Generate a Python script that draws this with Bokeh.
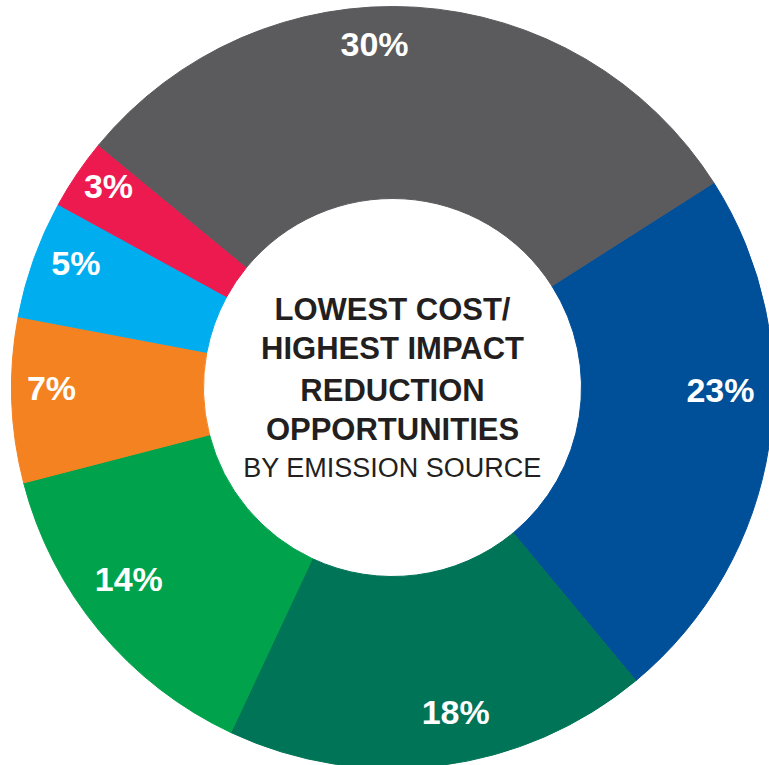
import numpy as np
from bokeh.plotting import figure
from bokeh.models import Range1d, ColumnDataSource
from bokeh.core.properties import value
from bokeh.embed import file_html
from bokeh.resources import INLINE

# ---- data ----
categories = ["Blue", "Dark green", "Green", "Orange", "Light blue", "Red", "Gray"]
shares = [23, 18, 14, 7, 5, 3, 30]
labels = ["23%", "18%", "14%", "7%", "5%", "3%", "30%"]
colors = ["#004f99", "#007457", "#00a34b", "#f58220", "#00aeef", "#ed1a4f", "#5b5b5e"]

center_lines = ["LOWEST COST/", "HIGHEST IMPACT", "REDUCTION", "OPPORTUNITIES", "BY EMISSION SOURCE"]

# ---- layout ----
W, H = 769, 765
CX, CY = 392, H - 387
R_IN, R_OUT = 189, 381
START_DEG = 32.5

# label placement nudges (degrees, radius) relative to slice middle
label_nudge = [8.4, 3.7, -3.7, -1.9, -1.7, -1.2, 6.5]
label_radius = [328, 331, 326, 341, 340, 348, 344]
label_big = [False, True, False, False, False, False, True]

vals = np.array(shares, dtype=float)
frac = vals / vals.sum()
cum = np.concatenate([[0], np.cumsum(frac)])
starts = START_DEG - cum[:-1] * 360
ends = START_DEG - cum[1:] * 360
mids = (starts + ends) / 2

src = ColumnDataSource(dict(start=np.deg2rad(starts), end=np.deg2rad(ends), color=colors))

p = figure(width=W, height=H, output_backend="svg", toolbar_location=None,
           x_range=Range1d(0, W), y_range=Range1d(0, H),
           x_axis_location=None, y_axis_location=None, min_border=0,
           outline_line_color=None, background_fill_color="white",
           border_fill_color="white")
p.grid.visible = False

p.annular_wedge(x=CX, y=CY, inner_radius=R_IN, outer_radius=R_OUT,
                start_angle="start", end_angle="end",
                direction="clock", fill_color="color", line_color="color",
                line_width=1, source=src)

la = np.deg2rad(mids + np.array(label_nudge))
lx = CX + np.array(label_radius) * np.cos(la)
ly = CY + np.array(label_radius) * np.sin(la)

for big in (False, True):
    idx = [i for i in range(len(labels)) if label_big[i] == big]
    p.text(x=[lx[i] for i in idx], y=[ly[i] for i in idx], text=[labels[i] for i in idx],
           text_align="center", text_baseline="middle", text_color="white",
           text_font=value("Liberation Sans Narrow, Liberation Sans" if big else "Liberation Sans"),
           text_font_style="bold", text_font_size="34px")

offs = [-78, -39, 3, 42, 80]
p.text(x=[CX] * 4, y=[CY - o for o in offs[:4]], text=center_lines[:4],
       text_align="center", text_baseline="middle", text_color="#231f20",
       text_font=value("Liberation Sans"), text_font_style="bold", text_font_size="31px")
p.text(x=[CX], y=[CY - offs[4]], text=center_lines[4:],
       text_align="center", text_baseline="middle", text_color="#231f20",
       text_font=value("Liberation Sans"), text_font_style="normal", text_font_size="27px")

open("out.html", "w").write(file_html(p, INLINE))
